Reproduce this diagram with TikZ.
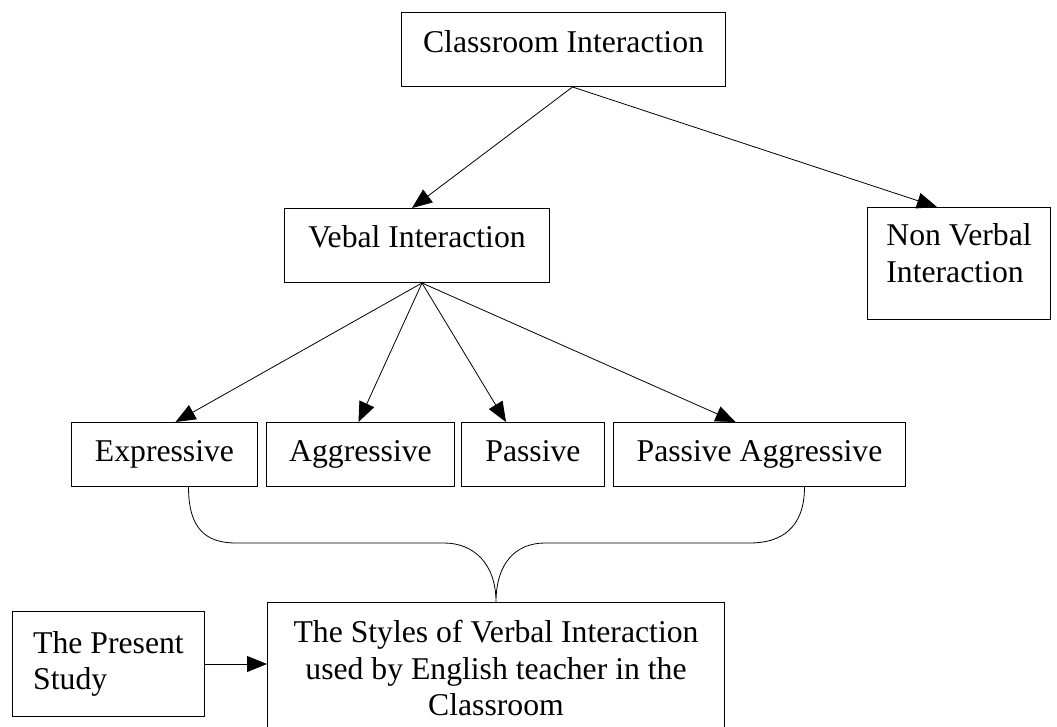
\documentclass[tikz,border=0pt]{standalone}
\usepackage{fontspec}
\setmainfont{Liberation Serif}
\usetikzlibrary{arrows.meta,positioning,calc}

\tikzset{
  box/.style={draw, line width=1pt, inner sep=0pt, align=center, font=\fontsize{31.7}{37}\selectfont},
  onebox/.style={box, minimum height=64pt, text height=22pt, text depth=8pt},
  link/.style={-{Triangle[length=20pt,width=16pt]}, line width=0.8pt},
}

\begin{document}
\begin{tikzpicture}[x=1pt,y=-1pt]
\useasboundingbox (0,0) rectangle (1057,726);
\clip (0,0) rectangle (1057,726);

% top levels
\node[onebox, anchor=north west, minimum width=324pt, minimum height=74pt, text depth=16pt] (cls) at (401,12) {Classroom Interaction};
\node[onebox, anchor=north west, minimum width=265pt, minimum height=74pt, text depth=18pt] (vebal) at (284,208) {Vebal Interaction};
\node[box, anchor=north west, minimum width=183pt, minimum height=112pt, align=left] (nonverbal) at (867,207) {Non Verbal\\Interaction\rule[-22pt]{0pt}{22pt}};

% the four styles
\node[onebox, anchor=north west, minimum width=186pt] (expr) at (71,422) {Expressive};
\node[onebox, minimum width=188pt, right=8pt of expr] (aggr) {Aggressive};
\node[onebox, minimum width=143pt, right=6pt of aggr] (pass) {Passive};
\node[onebox, minimum width=292pt, right=8pt of pass] (pa) {Passive Aggressive};

% bottom
\node[box, anchor=north west, minimum width=192pt, minimum height=105pt, align=left, font=\fontsize{31.7}{36}\selectfont] (present) at (12,611) {The Present\\Study};
\node[box, anchor=north west, minimum width=457pt, minimum height=131pt, font=\fontsize{31.7}{36.5}\selectfont] (styles) at (267,602) {The Styles of Verbal Interaction\\used by English teacher in the\\Classroom};

\draw[link] ([xshift=9pt]cls.south) -- ([xshift=-5pt]vebal.north);
\draw[link] ([xshift=9pt]cls.south) -- ([xshift=-22pt]nonverbal.north);
\draw[link] ([xshift=5pt]vebal.south) -- ([xshift=11pt]expr.north);
\draw[link] ([xshift=5pt]vebal.south) -- ([xshift=-2pt]aggr.north);
\draw[link] ([xshift=5pt]vebal.south) -- ([xshift=-27pt]pass.north);
\draw[link] ([xshift=5pt]vebal.south) -- ([xshift=-24pt]pa.north);
\draw[link] (present.east) -- (present.east -| styles.west);

% brace into the study box
\coordinate (bl) at ([xshift=24pt]expr.south);
\coordinate (br) at ([xshift=45pt]pa.south);
\draw[line width=0.8pt] (bl) .. controls +(0,42) and +(-30,0) .. (236,543) -- (444,543)
  .. controls +(30,0) and +(0,-38) .. (styles.north)
  .. controls +(0,-38) and +(-30,0) .. (545,543) -- (750,543)
  .. controls +(30,0) and +(0,42) .. (br);
\end{tikzpicture}
\end{document}
